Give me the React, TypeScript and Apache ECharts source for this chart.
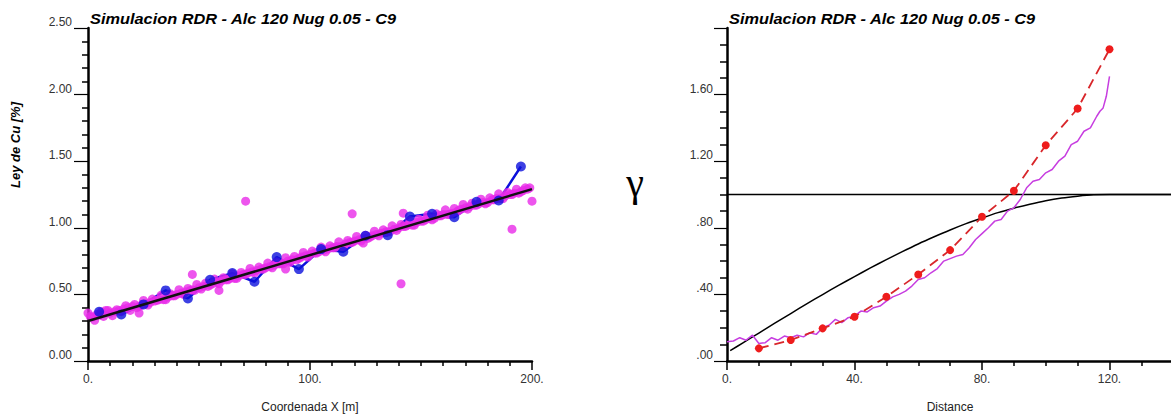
import React, { useEffect, useRef } from 'react';
import * as echarts from 'echarts';

const titleText = 'Simulacion RDR - Alc 120 Nug 0.05 - C9';

// Left panel: trend line
const trendX = [0, 200];
const trendY = [0.3, 1.29];

// Left panel: conditioning data (blue)
const blueX = [5, 15, 25, 35, 45, 55, 65, 75, 85, 95, 105, 115, 125, 135, 145, 155, 165, 175, 185, 195];
const blueY = [0.37, 0.35, 0.425, 0.53, 0.47, 0.61, 0.66, 0.595, 0.78, 0.69, 0.84, 0.82, 0.94, 0.945, 1.085, 1.105, 1.08, 1.195, 1.205, 1.46];

// Left panel: simulated values (magenta), even positions
const simX = [0, 2, 4, 6, 8, 10, 12, 14, 16, 18, 20, 22, 24, 26, 28, 30, 32, 34, 36, 38, 40, 42, 44, 46, 48, 50, 52, 54, 56, 58, 60, 62, 64, 66, 68, 70, 72, 74, 76, 78, 80, 82, 84, 86, 88, 90, 92, 94, 96, 98, 100, 102, 104, 106, 108, 110, 112, 114, 116, 118, 120, 122, 124, 126, 128, 130, 132, 134, 136, 138, 140, 142, 144, 146, 148, 150, 152, 154, 156, 158, 160, 162, 164, 166, 168, 170, 172, 174, 176, 178, 180, 182, 184, 186, 188, 190, 192, 194, 196, 198];
const simY = [0.36, 0.33, 0.35, 0.37, 0.38, 0.36, 0.37, 0.38, 0.39, 0.4, 0.41, 0.4, 0.42, 0.43, 0.44, 0.45, 0.46, 0.46, 0.48, 0.49, 0.5, 0.51, 0.52, 0.53, 0.53, 0.55, 0.56, 0.56, 0.58, 0.59, 0.6, 0.61, 0.62, 0.62, 0.64, 0.65, 0.66, 0.67, 0.68, 0.69, 0.7, 0.71, 0.72, 0.73, 0.73, 0.75, 0.76, 0.76, 0.78, 0.79, 0.8, 0.81, 0.82, 0.83, 0.84, 0.85, 0.86, 0.86, 0.88, 0.89, 0.9, 0.91, 0.92, 0.92, 0.94, 0.95, 0.96, 0.97, 0.97, 0.99, 1.0, 1.01, 1.02, 1.02, 1.04, 1.05, 1.06, 1.07, 1.07, 1.09, 1.1, 1.1, 1.11, 1.12, 1.14, 1.15, 1.16, 1.17, 1.18, 1.19, 1.19, 1.21, 1.22, 1.22, 1.24, 1.25, 1.26, 1.26, 1.28, 1.29];
// Left panel: simulated values (magenta), odd positions
const sim2X = [1, 3, 5, 7, 9, 11, 13, 15, 17, 19, 21, 23, 25, 27, 29, 31, 33, 35, 37, 39, 41, 43, 45, 47, 49, 51, 53, 55, 57, 59, 61, 63, 65, 67, 69, 71, 73, 75, 77, 79, 81, 83, 85, 87, 89, 91, 93, 95, 97, 99, 101, 103, 105, 107, 109, 111, 113, 115, 117, 119, 121, 123, 125, 127, 129, 131, 133, 135, 137, 139, 141, 143, 145, 147, 149, 151, 153, 155, 157, 159, 161, 163, 165, 167, 169, 171, 173, 175, 177, 179, 181, 183, 185, 187, 189, 191, 193, 195, 197, 199];
const sim2Y = [0.335, 0.305, 0.345, 0.335, 0.38, 0.34, 0.385, 0.37, 0.415, 0.38, 0.425, 0.41, 0.455, 0.42, 0.465, 0.455, 0.495, 0.46, 0.505, 0.49, 0.535, 0.5, 0.545, 0.535, 0.575, 0.54, 0.585, 0.57, 0.615, 0.58, 0.625, 0.61, 0.655, 0.62, 0.665, 0.65, 0.695, 0.66, 0.705, 0.69, 0.735, 0.7, 0.745, 0.73, 0.775, 0.74, 0.785, 0.77, 0.815, 0.78, 0.825, 0.81, 0.855, 0.82, 0.865, 0.85, 0.895, 0.86, 0.905, 0.89, 0.935, 0.9, 0.945, 0.93, 0.975, 0.94, 0.985, 0.97, 1.015, 0.98, 1.025, 1.01, 1.055, 1.02, 1.065, 1.05, 1.095, 1.06, 1.105, 1.09, 1.135, 1.1, 1.145, 1.13, 1.175, 1.14, 1.185, 1.17, 1.215, 1.18, 1.225, 1.21, 1.255, 1.22, 1.265, 1.25, 1.29, 1.27, 1.3, 1.3];
const outX = [23, 47, 59, 71, 89, 119, 124, 141, 142, 191, 200];
const outY = [0.36, 0.65, 0.53, 1.2, 0.69, 1.105, 0.885, 0.58, 1.11, 0.99, 1.2];

// Right panel: model variogram
const modelX = [1, 5, 10, 15, 20, 25, 30, 35, 40, 45, 50, 55, 60, 65, 70, 75, 80, 85, 90, 95, 100, 105, 110, 115, 120, 130, 140, 160];
const modelY = [0.062, 0.109, 0.168, 0.227, 0.285, 0.343, 0.399, 0.454, 0.507, 0.559, 0.609, 0.657, 0.703, 0.746, 0.787, 0.825, 0.859, 0.891, 0.918, 0.942, 0.963, 0.979, 0.99, 0.998, 1.0, 1.0, 1.0, 1.0];
const sillX = [0, 160];
const sillY = [1.0, 1.0];

// Right panel: experimental variogram (red)
const expX = [10, 20, 30, 40, 50, 60, 70, 80, 90, 100, 110, 120];
const expY = [0.076, 0.126, 0.196, 0.266, 0.386, 0.52, 0.666, 0.866, 1.022, 1.296, 1.516, 1.872];

// Right panel: simulated variogram (violet)
const svX = [0, 2, 4, 6, 8, 10, 12, 14, 16, 18, 20, 22, 24, 26, 28, 30, 32, 34, 36, 38, 40, 42, 44, 46, 48, 50, 52, 54, 56, 58, 60, 62, 64, 66, 68, 70, 72, 74, 76, 78, 80, 82, 84, 86, 88, 90, 92, 94, 96, 98, 100, 102, 104, 106, 108, 110, 112, 114, 116, 117, 118, 119, 120];
const svY = [0.115, 0.12, 0.14, 0.125, 0.155, 0.105, 0.11, 0.14, 0.125, 0.15, 0.14, 0.155, 0.145, 0.17, 0.16, 0.2, 0.215, 0.25, 0.23, 0.26, 0.27, 0.3, 0.295, 0.32, 0.33, 0.36, 0.385, 0.4, 0.42, 0.45, 0.49, 0.5, 0.53, 0.555, 0.6, 0.615, 0.63, 0.64, 0.68, 0.73, 0.765, 0.8, 0.84, 0.85, 0.9, 0.92, 0.97, 1.04, 1.08, 1.09, 1.13, 1.15, 1.2, 1.23, 1.3, 1.32, 1.38, 1.4, 1.47, 1.5, 1.52, 1.59, 1.71];

const zip = (xs: number[], ys: number[]) => xs.map((x, i) => [x, ys[i]]);

const FONT = '"Liberation Sans", Arial, sans-serif';
const labelStyle = { color: '#333', fontFamily: FONT, fontSize: 12 };
const MAGENTA = '#e82ae8';
const BLUE = '#0c10dc';

export default function App() {
  const ref = useRef<HTMLDivElement>(null);
  useEffect(() => {
    if (!ref.current) return;
    const chart = echarts.init(ref.current, undefined, { renderer: 'svg' });
    const axisLine = { show: true, onZero: false, lineStyle: { color: '#000', width: 2.5 } };
    chart.setOption({
      animation: false,
      backgroundColor: '#fff',
      grid: [
        { left: 88, top: 28, width: 444, height: 333 },
        { left: 727, top: 28, width: 511, height: 333 },
      ],
      xAxis: [
        {
          gridIndex: 0, type: 'value', min: 0, max: 200, interval: 100,
          axisLine,
          axisTick: { show: true, length: 9, lineStyle: { color: '#000', width: 1.5 } },
          minorTick: { show: true, splitNumber: 10, length: 5, lineStyle: { color: '#000', width: 1.5 } },
          axisLabel: { ...labelStyle, margin: 12, formatter: (v: number) => v + '.' },
          splitLine: { show: false },
        },
        {
          gridIndex: 1, type: 'value', min: 0, max: 160, interval: 40,
          axisLine,
          axisTick: { show: true, length: 9, lineStyle: { color: '#000', width: 1.5 } },
          minorTick: { show: true, splitNumber: 4, length: 5, lineStyle: { color: '#000', width: 1.5 } },
          axisLabel: { ...labelStyle, margin: 12, formatter: (v: number) => (v >= 140 ? '' : v + '.') },
          splitLine: { show: false },
        },
      ],
      yAxis: [
        {
          gridIndex: 0, type: 'value', min: 0, max: 2.5, interval: 0.5,
          axisLine,
          axisTick: { show: true, length: 14, lineStyle: { color: '#000', width: 1.2 } },
          minorTick: { show: true, splitNumber: 5, length: 6, lineStyle: { color: '#000', width: 1.5 } },
          axisLabel: { ...labelStyle, margin: 16, verticalAlign: 'bottom', formatter: (v: number) => v.toFixed(2) },
          splitLine: { show: false },
        },
        {
          gridIndex: 1, type: 'value', min: 0, max: 2.0, interval: 0.4,
          axisLine,
          axisTick: { show: true, length: 13, lineStyle: { color: '#000', width: 1.2 } },
          minorTick: { show: true, splitNumber: 4, length: 7, lineStyle: { color: '#000', width: 1.5 } },
          axisLabel: {
            ...labelStyle, margin: 14, verticalAlign: 'bottom',
            formatter: (v: number) => (v > 1.9 ? '' : v < 1 ? v.toFixed(2).slice(1) : v.toFixed(2)),
          },
          splitLine: { show: false },
        },
      ],
      graphic: [
        { type: 'text', x: 90, y: 11, scaleX: 1.09, style: { text: titleText, font: `italic bold 15px ${FONT}`, fill: '#000', verticalAlign: 'top' } },
        { type: 'text', x: 729, y: 11, scaleX: 1.09, style: { text: titleText, font: `italic bold 15px ${FONT}`, fill: '#000', verticalAlign: 'top' } },
        {
          type: 'text', x: 15, y: 145, rotation: Math.PI / 2,
          style: { text: 'Ley de Cu [%]', font: `italic bold 13px ${FONT}`, fill: '#000', align: 'center', verticalAlign: 'middle' },
        },
        { type: 'text', x: 310, y: 407, style: { text: 'Coordenada X [m]', font: `12px ${FONT}`, fill: '#222', align: 'center', verticalAlign: 'middle' } },
        { type: 'text', x: 950, y: 407, style: { text: 'Distance', font: `12px ${FONT}`, fill: '#222', align: 'center', verticalAlign: 'middle' } },
        { type: 'text', x: 635, y: 182, style: { text: 'γ', font: `40px "Liberation Serif", "DejaVu Serif", serif`, fill: '#000', align: 'center', verticalAlign: 'middle' } },
      ],
      series: [
        {
          type: 'line', xAxisIndex: 0, yAxisIndex: 0, data: zip(blueX, blueY), showSymbol: false, symbol: 'none',
          lineStyle: { color: BLUE, width: 2.5 }, z: 1,
        },
        {
          type: 'scatter', xAxisIndex: 0, yAxisIndex: 0, data: zip(simX, simY), symbolSize: 9,
          itemStyle: { color: MAGENTA }, z: 2,
        },
        {
          type: 'scatter', xAxisIndex: 0, yAxisIndex: 0, data: zip(sim2X, sim2Y), symbolSize: 9,
          itemStyle: { color: MAGENTA }, z: 2,
        },
        {
          type: 'scatter', xAxisIndex: 0, yAxisIndex: 0, data: zip(outX, outY), symbolSize: 9,
          itemStyle: { color: MAGENTA }, z: 2,
        },
        {
          type: 'scatter', xAxisIndex: 0, yAxisIndex: 0, data: zip(blueX, blueY), symbolSize: 10,
          itemStyle: { color: BLUE }, z: 3,
        },
        {
          type: 'line', xAxisIndex: 0, yAxisIndex: 0, data: zip(trendX, trendY), symbol: 'none',
          lineStyle: { color: '#111', width: 2.5 }, z: 4,
        },
        {
          type: 'line', xAxisIndex: 1, yAxisIndex: 1, data: zip(sillX, sillY), symbol: 'none',
          lineStyle: { color: '#000', width: 1.5 }, z: 1,
        },
        {
          type: 'line', xAxisIndex: 1, yAxisIndex: 1, data: zip(modelX, modelY), symbol: 'none', smooth: 0.3,
          lineStyle: { color: '#000', width: 1.5 }, z: 2,
        },
        {
          type: 'line', xAxisIndex: 1, yAxisIndex: 1, data: zip(svX, svY), symbol: 'none',
          lineStyle: { color: '#c73ee0', width: 1.5 }, z: 3,
        },
        {
          type: 'line', xAxisIndex: 1, yAxisIndex: 1, data: zip(expX, expY), symbol: 'circle', symbolSize: 8, showSymbol: true,
          lineStyle: { color: '#d8262a', width: 1.8, type: [10, 6] }, itemStyle: { color: '#ee1c1c' }, z: 4,
        },
      ],
    });
    return () => chart.dispose();
  }, []);
  return <div ref={ref} style={{ position: 'fixed', left: 0, top: 0, width: 1240, height: 415 }} />;
}
